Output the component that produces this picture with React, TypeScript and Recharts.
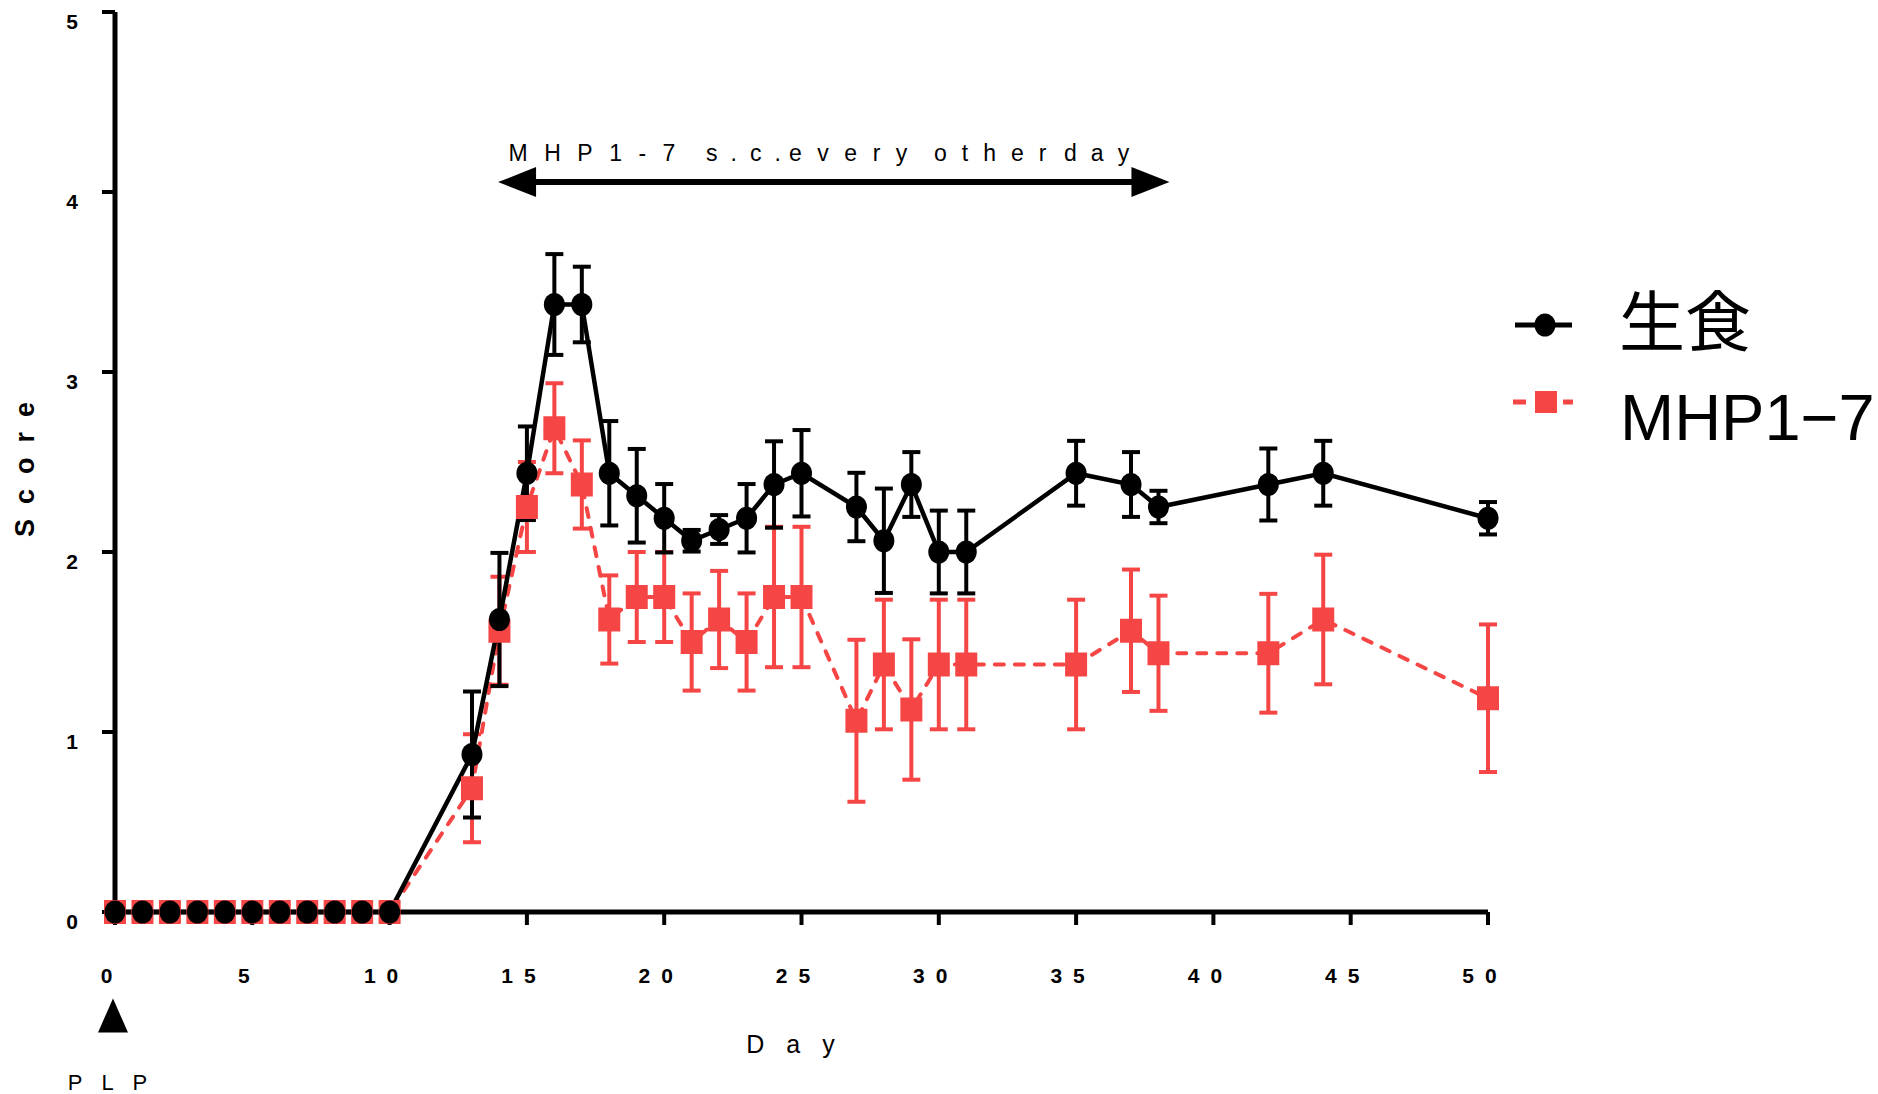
import React from 'react'
import {
  LineChart, Line, XAxis, YAxis, ErrorBar, ReferenceLine, ReferenceDot, Legend,
} from 'recharts'

// days on which the score was taken
const days = [0, 1, 2, 3, 4, 5, 6, 7, 8, 9, 10, 13, 14, 15, 16, 17, 18, 19, 20, 21, 22, 23, 24, 25, 27, 28, 29, 30, 31, 35, 37, 38, 42, 44, 50]

// 生食 (saline) group
const salineMean = [0, 0, 0, 0, 0, 0, 0, 0, 0, 0, 0,
  0.875, 1.625, 2.4375, 3.375, 3.375, 2.4375, 2.3125, 2.1875, 2.0625, 2.125, 2.1875, 2.375, 2.4375,
  2.25, 2.0625, 2.375, 2.0, 2.0,
  2.4375, 2.375, 2.25, 2.375, 2.4375, 2.1875]
const salineSem = [0, 0, 0, 0, 0, 0, 0, 0, 0, 0, 0,
  0.35, 0.37, 0.26, 0.28, 0.21, 0.29, 0.26, 0.19, 0.06, 0.08, 0.19, 0.24, 0.24,
  0.19, 0.29, 0.18, 0.23, 0.23,
  0.18, 0.18, 0.09, 0.2, 0.18, 0.09]

// MHP1-7 group
const mhpMean = [0, 0, 0, 0, 0, 0, 0, 0, 0, 0, 0,
  0.6875, 1.5625, 2.25, 2.6875, 2.375, 1.625, 1.75, 1.75, 1.5, 1.625, 1.5, 1.75, 1.75,
  1.0625, 1.375, 1.125, 1.375, 1.375,
  1.375, 1.5625, 1.4375, 1.4375, 1.625, 1.1875]
const mhpSem = [0, 0, 0, 0, 0, 0, 0, 0, 0, 0, 0,
  0.3, 0.3, 0.25, 0.25, 0.245, 0.245, 0.25, 0.25, 0.27, 0.27, 0.27, 0.39, 0.39,
  0.45, 0.36, 0.39, 0.36, 0.36,
  0.36, 0.34, 0.32, 0.33, 0.36, 0.41]

const xTicks = [0, 5, 10, 15, 20, 25, 30, 35, 40, 45, 50]
const yTicks = [0, 1, 2, 3, 4, 5]

const seriesNames = ['生食', 'MHP1−7']
const arrowText = 'MHP1-7 s.c. every other day'

const RED = '#F64545'
const FONT = '"Liberation Sans", Arial, Helvetica, sans-serif'

const rows = days.map((d, i) => ({
  day: d,
  saline: salineMean[i],
  salineErr: salineSem[i],
  mhp: mhpMean[i],
  mhpErr: mhpSem[i],
}))

const YTick = ({ x, y, payload }: any) => (
  <text x={x} y={y} dy={17} textAnchor="middle" fontSize={21} fontWeight="bold" fill="#000" fontFamily={FONT}>
    {payload.value}
  </text>
)

const XTick = ({ x, y, payload }: any) => (
  <text x={x} y={y} dy={56} dx={-3} textAnchor="middle" fontSize={21} fontWeight="bold" fill="#000"
    fontFamily={FONT} letterSpacing={11}>
    {payload.value}
  </text>
)

const ScoreLabel = ({ viewBox }: any) => {
  const cx = viewBox.x + 25
  const cy = viewBox.y + viewBox.height / 2
  return (
    <text x={cx} y={cy} transform={`rotate(-90, ${cx}, ${cy})`} textAnchor="middle" dominantBaseline="central"
      fontSize={27} fontWeight="bold" fill="#000" fontFamily={FONT} letterSpacing={15}>
      Score
    </text>
  )
}

const DayLabel = ({ viewBox }: any) => (
  <text x={viewBox.x + viewBox.width / 2} y={viewBox.y + 141} textAnchor="middle"
    fontSize={25} fill="#000" fontFamily={FONT} letterSpacing={22}>
    Day
  </text>
)

// word offsets from the left arrow tip, and their letter spacing
const wordOffsets = [10.5, 208, 291, 436, 566]
const wordSpacing = [16.5, 13, 15.5, 15, 14]

// double-headed arrow with the dosing note above it
const ArrowShape = ({ x1, y1, x2 }: any) => {
  const head = 38
  const half = 15
  return (
    <g>
      <line x1={x1 + head - 2} y1={y1} x2={x2 - head + 2} y2={y1} stroke="#000" strokeWidth={6} />
      <polygon points={`${x1},${y1} ${x1 + head},${y1 - half} ${x1 + head},${y1 + half}`} fill="#000" />
      <polygon points={`${x2},${y1} ${x2 - head},${y1 - half} ${x2 - head},${y1 + half}`} fill="#000" />
      <text y={y1 - 21} fontSize={23} fill="#000" fontFamily={FONT}>
        {arrowText.split(' ').map((w, i) => (
          <tspan key={i} x={x1 + wordOffsets[i]} letterSpacing={wordSpacing[i]}>{w}</tspan>
        ))}
      </text>
    </g>
  )
}

// PLP immunisation marker under day 0
const PlpMarker = ({ cx, cy }: any) => (
  <g>
    <polygon points={`${cx - 2},${cy - 17} ${cx - 17},${cy + 17} ${cx + 13},${cy + 17}`} fill="#000" />
    <text x={cx + 2} y={cy + 74} textAnchor="middle" fontSize={22} fill="#000" fontFamily={FONT} letterSpacing={19}>
      PLP
    </text>
  </g>
)

const circleDot = (props: any) => {
  const { cx, cy, index } = props
  if (cx == null || cy == null) return <g key={`c${index}`} />
  return <ellipse key={`c${index}`} cx={cx} cy={cy} rx={10.5} ry={11.5} fill="#000" />
}

const squareDot = (props: any) => {
  const { cx, cy, index } = props
  if (cx == null || cy == null) return <g key={`s${index}`} />
  return <rect key={`s${index}`} x={cx - 11} y={cy - 12} width={22} height={24} fill={RED} />
}

const LegendBox = () => (
  <svg width={373} height={200} style={{ display: 'block' }}>
    <line x1={10} y1={65} x2={67} y2={65} stroke="#000" strokeWidth={5} />
    <ellipse cx={40} cy={65} rx={10.5} ry={11.5} fill="#000" />
    <text x={114} y={86} fontSize={66} fill="#000" fontFamily='"Noto Sans CJK JP", "Noto Sans CJK SC", sans-serif'>
      {seriesNames[0]}
    </text>
    <line x1={8} y1={142} x2={68} y2={142} stroke={RED} strokeWidth={5} strokeDasharray="13 12" />
    <rect x={30} y={131} width={22} height={22} fill={RED} />
    <text x={115} y={180} fontSize={65} fill="#000" fontFamily={FONT}>
      {seriesNames[1]}
    </text>
  </svg>
)

const App = () => (
  <div style={{ position: 'absolute', left: 0, top: 0, width: 1878, height: 1094, background: '#fff', fontFamily: FONT }}>
    <LineChart width={1878} height={1094} data={rows} margin={{ top: 12, right: 390, bottom: 122, left: 0 }}>
      <XAxis
        dataKey="day"
        type="number"
        domain={[0, 50]}
        ticks={xTicks}
        interval={0}
        height={60}
        tickSize={13}
        axisLine={{ stroke: '#000', strokeWidth: 5 }}
        tickLine={{ stroke: '#000', strokeWidth: 4 }}
        tick={<XTick />}
        label={<DayLabel />}
      />
      <YAxis
        type="number"
        domain={[0, 5]}
        ticks={yTicks}
        interval={0}
        width={115}
        tickSize={13}
        tickMargin={30}
        axisLine={{ stroke: '#000', strokeWidth: 5 }}
        tickLine={{ stroke: '#000', strokeWidth: 4 }}
        tick={<YTick />}
        label={<ScoreLabel />}
      />
      <ReferenceLine
        segment={[{ x: 13.95, y: 4.055 }, { x: 38.4, y: 4.055 }]}
        ifOverflow="visible"
        shape={<ArrowShape />}
      />
      <ReferenceDot x={0} y={-0.575} ifOverflow="visible" shape={<PlpMarker />} />
      <Line
        type="linear"
        dataKey="mhp"
        name={seriesNames[1]}
        stroke={RED}
        strokeWidth={4}
        strokeDasharray="9 11"
        strokeLinecap="round"
        dot={squareDot}
        activeDot={false}
        isAnimationActive={false}
      >
        <ErrorBar dataKey="mhpErr" direction="y" width={9} strokeWidth={4} stroke={RED} />
      </Line>
      <Line
        type="linear"
        dataKey="saline"
        name={seriesNames[0]}
        stroke="#000"
        strokeWidth={4.5}
        dot={circleDot}
        activeDot={false}
        isAnimationActive={false}
      >
        <ErrorBar dataKey="salineErr" direction="y" width={9} strokeWidth={4} stroke="#000" />
      </Line>
      <Legend
        layout="horizontal"
        align="center"
        verticalAlign="middle"
        content={<LegendBox />}
        wrapperStyle={{ left: 1505, top: 260, width: 373, height: 200 }}
      />
    </LineChart>
  </div>
)

export default App
